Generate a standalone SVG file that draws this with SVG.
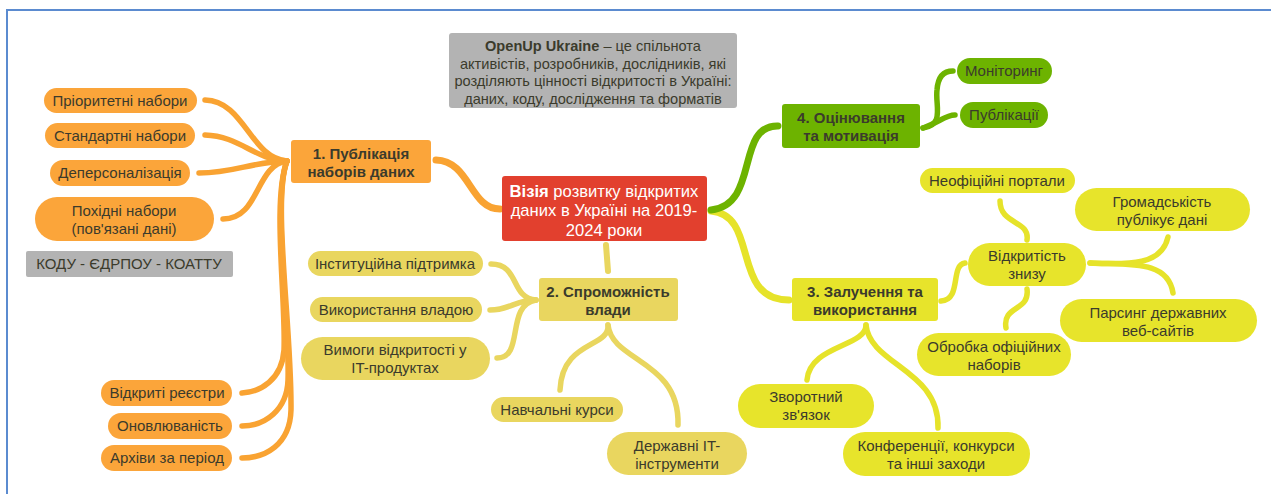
<svg xmlns="http://www.w3.org/2000/svg" width="1271" height="494" viewBox="0 0 1271 494">
<style>
text{font-family:"Liberation Sans",Arial,sans-serif;font-size:15px;fill:#3b3b2c;text-anchor:middle}
.b{font-weight:bold}
.n{font-size:14.6px}
.w{fill:#ffffff;font-size:16.6px}
.c{fill:none;stroke-linecap:round}
.o{stroke:#f9a332}
.y{stroke:#e9d65f}
.g{stroke:#6db300}
.l{stroke:#e6e32a}
.fo{fill:#fba53a}
.fy{fill:#e9d65f}
.fl{fill:#e7e42b}
.fg{fill:#6db300}
.fgr{fill:#b3b3b3}
</style>
<rect x="0" y="0" width="1271" height="494" fill="#ffffff"/>
<path d="M7 494 V10 H1271" fill="none" stroke="#5b8bd0" stroke-width="2"/>
<g id="connectors">
<path class="c o" stroke-width="7" d="M500 209 C470 209,470 161,436 160"/>
<path class="c o" stroke-width="5.5" d="M287 161 C250 158,245 101,205 100"/>
<path class="c o" stroke-width="5.5" d="M287 161 C255 160,240 136,205 135"/>
<path class="c o" stroke-width="5.5" d="M287 161 C250 162,235 173,199 173"/>
<path class="c o" stroke-width="5.5" d="M287 161 C255 165,260 219,223 219"/>
<path class="c o" stroke-width="5.5" d="M287 161 C272 200,286 300,284 350 C282 380,260 392,242 393"/>
<path class="c o" stroke-width="5.5" d="M287 161 C272 200,290 320,288 380 C287 410,265 426,242 426"/>
<path class="c o" stroke-width="5.5" d="M287 161 C272 200,292 330,291 410 C290 445,265 458,242 458"/>
<path class="c y" stroke-width="6" d="M606 245 L608 271"/>
<path class="c y" stroke-width="5.5" d="M536 300 C510 298,520 264,491 264"/>
<path class="c y" stroke-width="5.5" d="M536 300 C515 300,510 310,490 310"/>
<path class="c y" stroke-width="5.5" d="M536 300 C505 305,525 358,497 358"/>
<path class="c y" stroke-width="5.5" d="M608 325 C610 348,562 340,560 390"/>
<path class="c y" stroke-width="5.5" d="M608 325 C612 362,680 360,678 425"/>
<path class="c l" stroke-width="7" d="M711 211 C760 215,730 300,789 300"/>
<path class="c l" stroke-width="5.5" d="M941 301 C962 300,950 265,965 263"/>
<path class="c l" stroke-width="5.5" d="M866 325 C866 347,810 345,807 380"/>
<path class="c l" stroke-width="5.5" d="M866 325 C870 365,940 370,938 428"/>
<path class="c l" stroke-width="5.5" d="M1027 240 C1030 220,1000 225,1000 201"/>
<path class="c l" stroke-width="5.5" d="M1027 289 C1030 312,1002 305,1006 328"/>
<path class="c l" stroke-width="5.5" d="M1090 263 C1130 265,1162 265,1168 237"/>
<path class="c l" stroke-width="5.5" d="M1090 263 C1130 265,1168 260,1173 293"/>
<path class="c g" stroke-width="7" d="M711 210 C760 205,735 125,778 126"/>
<path class="c g" stroke-width="5.5" d="M923 128 C945 125,935 105,937 90 C938 75,945 71,953 71"/>
<path class="c g" stroke-width="5.5" d="M923 128 C940 122,945 115,955 115"/>
</g>
<g id="note">
<rect x="449" y="33" width="288" height="75" rx="3" class="fgr"/>
<text class="n" x="593" y="51"><tspan class="b">OpenUp Ukraine</tspan> – це спільнота</text>
<text class="n" x="593" y="69">активістів, розробників, дослідників, які</text>
<text class="n" x="593" y="86">розділяють цінності відкритості в Україні:</text>
<text class="n" x="593" y="104">даних, коду, дослідження та форматів</text>
</g>
<g id="center">
<rect x="502" y="176" width="205" height="65" rx="3" fill="#e2402e"/>
<text class="w" x="604" y="197"><tspan class="b" style="fill:#fff">Візія</tspan> розвитку відкритих</text>
<text class="w" x="604" y="216">даних в Україні на 2019-</text>
<text class="w" x="604" y="236">2024 роки</text>
</g>
<g id="n1">
<rect x="291" y="140" width="140" height="43" rx="3" class="fo"/>
<text class="b" x="361" y="159">1. Публікація</text>
<text class="b" x="361" y="177">наборів даних</text>
</g>
<g id="n1a"><rect x="44" y="88" width="153" height="25" rx="12.5" class="fo"/><text x="120" y="106">Пріоритетні набори</text></g>
<g id="n1b"><rect x="45" y="123" width="150" height="25" rx="12.5" class="fo"/><text x="120" y="141">Стандартні набори</text></g>
<g id="n1c"><rect x="50" y="160" width="140" height="26" rx="13" class="fo"/><text x="120" y="178">Деперсоналізація</text></g>
<g id="n1d"><rect x="35" y="197" width="179" height="44" rx="22" class="fo"/><text x="124" y="216">Похідні набори</text><text x="124" y="234">(пов'язані дані)</text></g>
<g id="n1e"><rect x="26" y="251" width="207" height="26" rx="2" class="fgr"/><text x="129" y="269">КОДУ - ЄДРПОУ - КОАТТУ</text></g>
<g id="n1f"><rect x="101" y="380" width="131" height="26" rx="13" class="fo"/><text x="167" y="398">Відкриті реєстри</text></g>
<g id="n1g"><rect x="108" y="413" width="124" height="26" rx="13" class="fo"/><text x="170" y="431">Оновлюваність</text></g>
<g id="n1h"><rect x="101" y="445" width="131" height="26" rx="13" class="fo"/><text x="167" y="463">Архіви за період</text></g>
<g id="n2">
<rect x="539" y="278" width="139" height="43" rx="3" class="fy"/>
<text class="b" x="608" y="297">2. Спроможність</text>
<text class="b" x="608" y="315">влади</text>
</g>
<g id="n2a"><rect x="308" y="251" width="175" height="25" rx="12.5" class="fy"/><text x="395" y="269">Інституційна підтримка</text></g>
<g id="n2b"><rect x="310" y="297" width="172" height="25" rx="12.5" class="fy"/><text x="396" y="315">Використання владою</text></g>
<g id="n2c"><rect x="301" y="337" width="189" height="43" rx="21.5" class="fy"/><text x="395" y="355">Вимоги відкритості у</text><text x="395" y="373">IT-продуктах</text></g>
<g id="n2d"><rect x="491" y="397" width="132" height="25" rx="12.5" class="fy"/><text x="557" y="415">Навчальні курси</text></g>
<g id="n2e"><rect x="607" y="432" width="140" height="43" rx="21.5" class="fy"/><text x="677" y="451">Державні IT-</text><text x="677" y="469">інструменти</text></g>
<g id="n3">
<rect x="792" y="278" width="146" height="43" rx="3" class="fl"/>
<text class="b" x="865" y="297">3. Залучення та</text>
<text class="b" x="865" y="315">використання</text>
</g>
<g id="n3a"><rect x="920" y="168" width="155" height="25" rx="12.5" class="fl"/><text x="997" y="186">Неофіційні портали</text></g>
<g id="n3b"><rect x="1075" y="188" width="175" height="43" rx="21.5" class="fl"/><text x="1162" y="207">Громадськість</text><text x="1162" y="225">публікує дані</text></g>
<g id="n3c"><rect x="968" y="243" width="118" height="43" rx="21.5" class="fl"/><text x="1027" y="261">Відкритість</text><text x="1027" y="279">знизу</text></g>
<g id="n3d"><rect x="917" y="333" width="154" height="43" rx="21.5" class="fl"/><text x="994" y="352">Обробка офіційних</text><text x="994" y="370">наборів</text></g>
<g id="n3e"><rect x="1060" y="299" width="197" height="43" rx="21.5" class="fl"/><text x="1158" y="318">Парсинг державних</text><text x="1158" y="336">веб-сайтів</text></g>
<g id="n3f"><rect x="738" y="384" width="136" height="44" rx="22" class="fl"/><text x="806" y="402">Зворотний</text><text x="806" y="420">зв'язок</text></g>
<g id="n3g"><rect x="843" y="432" width="187" height="44" rx="22" class="fl"/><text x="936" y="451">Конференції, конкурси</text><text x="936" y="469">та інші заходи</text></g>
<g id="n4">
<rect x="782" y="104" width="138" height="44" rx="3" class="fg"/>
<text class="b" x="851" y="123">4. Оцінювання</text>
<text class="b" x="851" y="141">та мотивація</text>
</g>
<g id="n4a"><rect x="957" y="58" width="95" height="26" rx="13" class="fg"/><text x="1004" y="76">Моніторинг</text></g>
<g id="n4b"><rect x="960" y="102" width="88" height="26" rx="13" class="fg"/><text x="1004" y="120">Публікації</text></g>
</svg>
